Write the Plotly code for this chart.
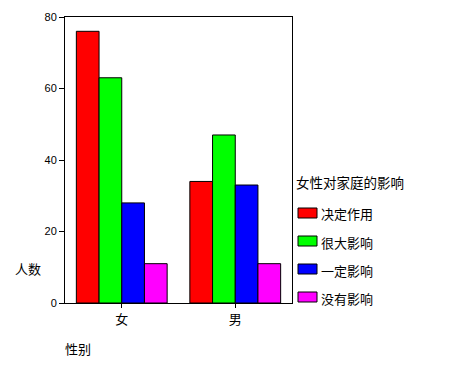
import plotly.graph_objects as go

categories = ["女", "男"]
series_names = ["决定作用", "很大影响", "一定影响", "没有影响"]
series_values = [
    [76, 34],
    [63, 47],
    [28, 33],
    [11, 11],
]
colors = ["#ff0000", "#00ff00", "#0000ff", "#ff00ff"]
y_ticks = [0, 20, 40, 60, 80]

cjk = "Noto Sans CJK SC"
fig = go.Figure()
for name, vals, c in zip(series_names, series_values, colors):
    fig.add_trace(go.Bar(x=categories, y=vals, name=name, marker=dict(color=c, line=dict(color="black", width=1)),
                         showlegend=False))

W, H = 454, 380
L, R, T, B = 65, 162, 17, 77
pw = W - L - R
ph = H - T - B

def px(x):
    return (x - L) / pw

def py(y):
    return (H - B - y) / ph

fig.update_layout(
    width=W, height=H,
    margin=dict(l=L, r=R, t=T, b=B),
    paper_bgcolor="white", plot_bgcolor="white",
    barmode="group", bargap=0.2, bargroupgap=0,
    font=dict(family="Arial", size=11, color="black"),
    xaxis=dict(showline=True, linecolor="black", linewidth=1, mirror=True,
               ticks="outside", ticklen=4, tickcolor="black",
               tickfont=dict(family=cjk, size=13), showgrid=False),
    yaxis=dict(range=[0, 80], tickvals=y_ticks, showline=True, linecolor="black", linewidth=1,
               mirror=True, ticks="outside", ticklen=5, tickcolor="black",
               showgrid=False, zeroline=False, tickfont=dict(size=11)),
)

annotations = [
    dict(text="人数", x=px(13), y=py(268), xanchor="left", yanchor="middle",
         font=dict(family=cjk, size=13)),
    dict(text="性别", x=px(63), y=py(348), xanchor="left", yanchor="middle",
         font=dict(family=cjk, size=13)),
    dict(text="女性对家庭的影响", x=px(294), y=py(182), xanchor="left", yanchor="middle",
         font=dict(family=cjk, size=13.5)),
]
shapes = []
legend_y = [213, 241, 269, 297]
for name, c, ly in zip(series_names, colors, legend_y):
    shapes.append(dict(type="rect", xref="paper", yref="paper",
                       x0=px(298), x1=px(317), y0=py(ly - 5), y1=py(ly + 5),
                       fillcolor=c, line=dict(color="black", width=1)))
    annotations.append(dict(text=name, x=px(319), y=py(ly + 1), xanchor="left", yanchor="middle",
                            font=dict(family=cjk, size=13)))
for a in annotations:
    a.update(xref="paper", yref="paper", showarrow=False)
fig.update_layout(annotations=annotations, shapes=shapes)

fig.write_html("out.html")
